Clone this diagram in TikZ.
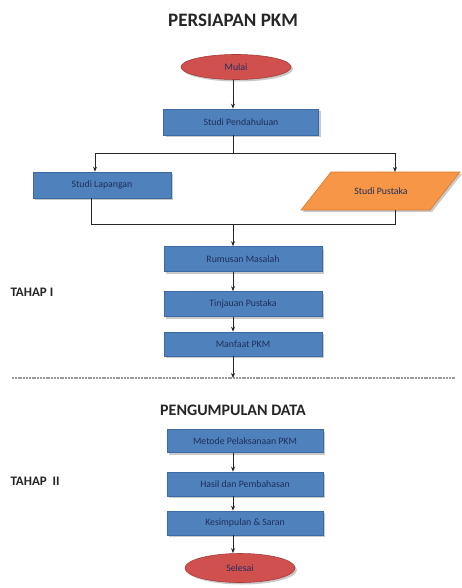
\documentclass[tikz,border=0pt]{standalone}
\usepackage{fontspec}
\setmainfont{Carlito}
\usetikzlibrary{shapes.geometric,shadows,arrows.meta}
\definecolor{boxblue}{HTML}{4F81BD}
\definecolor{boxedge}{HTML}{3C6AA3}
\definecolor{boxtext}{HTML}{1F2F5C}
\definecolor{termred}{HTML}{D0504E}
\definecolor{termedge}{HTML}{A83A38}
\definecolor{iorange}{HTML}{F79646}
\definecolor{iedge}{HTML}{D9782F}
\definecolor{sepgray}{HTML}{9A9A9A}
\begin{document}
\begin{tikzpicture}[x=1pt,y=-1pt,
  shd/.style={drop shadow={shadow xshift=2pt,shadow yshift=-2pt,opacity=.35,fill=black!60}},
  boxfont/.style={font=\fontsize{9.8}{11}\selectfont,text=boxtext},
  stepbox/.style={rectangle,draw=boxedge,line width=0.6pt,fill=boxblue,boxfont,inner sep=0pt,shd},
  term/.style={ellipse,draw=termedge,line width=0.6pt,fill=termred,boxfont,inner sep=0pt,shd},
  iobox/.style={fill=iorange,draw=iedge,line width=0.6pt,shd},
  ttl/.style={font=\fontsize{19}{22}\selectfont\bfseries,text=black!85},
  ttlb/.style={font=\fontsize{16}{18}\selectfont\bfseries,text=black!85},
  lbl/.style={font=\fontsize{13}{15}\selectfont\bfseries,text=black!85,anchor=west},
  ln/.style={line width=0.9pt,black!85},
  arr/.style={ln,-{Stealth[length=5pt,width=4pt]}}]
\useasboundingbox (0,0) rectangle (462,588);
\fill[white] (0,0) rectangle (462,588);

\node[ttl] (t1) at (233,20) {PERSIAPAN PKM};
\node[term,minimum width=110pt,minimum height=25pt] (mulai) at (236,67) {Mulai};
\node[stepbox,minimum width=155pt,minimum height=26pt] (pend) at (241,122) {Studi Pendahuluan};
\node[stepbox,minimum width=138pt,minimum height=26pt] (lap) at (102,185) {Studi Lapangan};

% Studi Pustaka parallelogram
\coordinate (pTL) at (331,172);
\coordinate (pTR) at (460,172);
\coordinate (pBR) at (430,210);
\coordinate (pBL) at (301,210);
\path[iobox] (pTL) -- (pTR) -- (pBR) -- (pBL) -- cycle;
\node[boxfont] (pus) at (381,191) {Studi Pustaka};
\coordinate (pusN) at (395,172);
\coordinate (pusS) at (395,210);

\node[stepbox,minimum width=158pt,minimum height=25pt] (rum) at (243,259) {Rumusan Masalah};
\node[stepbox,minimum width=158pt,minimum height=25pt] (tin) at (243,304) {Tinjauan Pustaka};
\node[stepbox,minimum width=158pt,minimum height=24pt] (man) at (243,344) {Manfaat PKM};
\node[lbl] (tahap1) at (7,292) {TAHAP I};

\coordinate (sepL) at (12,378);
\coordinate (sepR) at (455,378);
\draw[sepgray,line width=1.3pt,dash pattern=on 2pt off 0.8pt] (sepL) -- (sepR);

\node[ttlb] (t2) at (233,410) {PENGUMPULAN DATA};
\node[stepbox,minimum width=156pt,minimum height=23pt] (met) at (245,441) {Metode Pelaksanaan PKM};
\node[stepbox,minimum width=156pt,minimum height=24pt] (has) at (245,484) {Hasil dan Pembahasan};
\node[stepbox,minimum width=156pt,minimum height=24pt] (kes) at (245,523) {Kesimpulan \& Saran};
\node[term,minimum width=110pt,minimum height=29pt] (sel) at (240,568) {Selesai};
\node[lbl] (tahap2) at (7,481) {TAHAP\ \ II};

\coordinate (spine) at (233,0);
\coordinate (fork) at (233,153);
\coordinate (forkL) at (95,153);
\coordinate (forkR) at (395,153);
\coordinate (join) at (233,224);
\coordinate (joinL) at (91,224);
\coordinate (joinR) at (395,224);
\coordinate (sepC) at (233,378);

\draw[arr] (mulai.south -| spine) -- (pend.north -| spine);
\draw[ln] (pend.south -| spine) -- (fork);
\draw[ln] (forkL) -- (forkR);
\draw[arr] (forkL) -- (lap.north -| forkL);
\draw[arr] (forkR) -- (pusN);
\draw[ln] (lap.south -| joinL) -- (joinL) -- (joinR) -- (pusS);
\draw[arr] (join) -- (rum.north -| spine);
\draw[arr] (rum.south -| spine) -- (tin.north -| spine);
\draw[arr] (tin.south -| spine) -- (man.north -| spine);
\draw[arr] (man.south -| spine) -- (sepC);
\draw[arr] (met.south -| spine) -- (has.north -| spine);
\draw[arr] (has.south -| spine) -- (kes.north -| spine);
\draw[arr] (kes.south -| spine) -- (sel.north -| spine);
\end{tikzpicture}
\end{document}
